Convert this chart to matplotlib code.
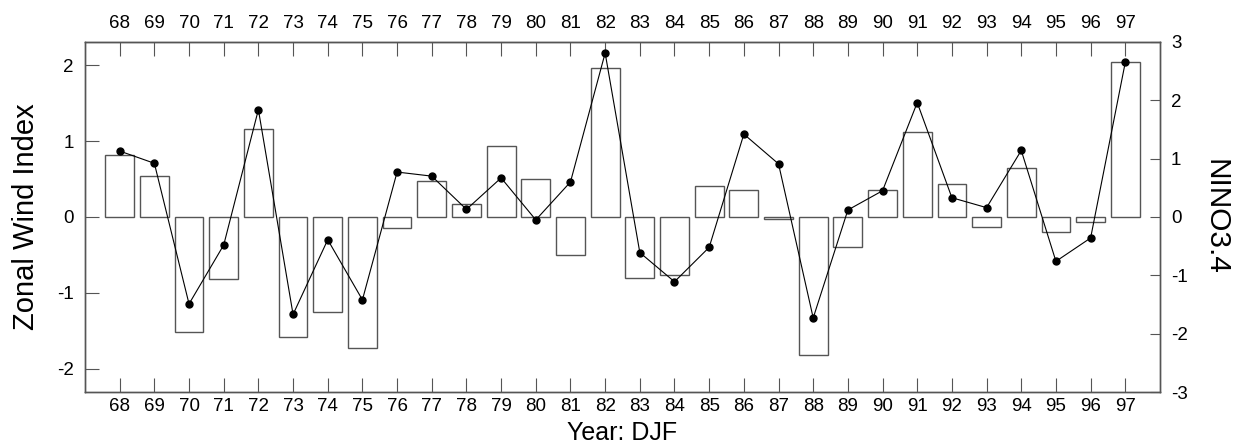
import matplotlib
matplotlib.use("Agg")
import matplotlib.pyplot as plt

years = list(range(68, 98))
year_labels = [str(y) for y in years]
zonal_wind = [0.82, 0.54, -1.52, -0.82, 1.16, -1.58, -1.26, -1.73, -0.14,
              0.47, 0.17, 0.94, 0.50, -0.50, 1.96, -0.80, -0.76, 0.41,
              0.35, -0.03, -1.82, -0.39, 0.35, 1.12, 0.44, -0.13, 0.64,
              -0.20, -0.07, 2.04]
nino34 = [1.13, 0.92, -1.49, -0.48, 1.84, -1.67, -0.39, -1.42, 0.77,
          0.70, 0.13, 0.67, -0.05, 0.60, 2.81, -0.61, -1.11, -0.52,
          1.42, 0.91, -1.73, 0.12, 0.45, 1.96, 0.33, 0.16, 1.14,
          -0.76, -0.36, 2.65]

plt.rcParams['font.family'] = ['Liberation Sans', 'DejaVu Sans']

fig = plt.figure(figsize=(12.41, 4.46), dpi=100)
ax = fig.add_axes([0.0685, 0.121, 0.8662, 0.785])

ax.bar(years, zonal_wind, width=0.83, facecolor='white', edgecolor='#555555',
       linewidth=1.0, zorder=2)
ax.set_xlim(67, 98)
ax.set_ylim(-2.31, 2.31)
ax.set_yticks([-2, -1, 0, 1, 2])
ax.set_yticklabels(['-2', '-1', '0', '1', '2'])
ax.set_xticks(years)
ax.set_xticklabels(year_labels)
ax.tick_params(axis='x', direction='in', length=10, width=0.8, color='#555555',
               bottom=True, labelbottom=True, top=False, labeltop=False,
               labelsize=13.5, pad=4)
ax.tick_params(axis='y', direction='in', length=10, width=0.8, color='#555555',
               labelsize=13.5, pad=8)
ax.set_ylabel('Zonal Wind Index', fontsize=21, labelpad=12)
fig.text(0.5 * (0.0685 + 0.9347), 1 - 440 / 446, 'Year: DJF', fontsize=18,
         ha='center', va='baseline')
for s in ax.spines.values():
    s.set_color('#555555')
    s.set_linewidth(1.0)

top = ax.secondary_xaxis('top')
top.set_xticks(years)
top.set_xticklabels(year_labels)
top.tick_params(axis='x', direction='in', length=10, width=0.8, color='#555555',
                labelsize=13.5, pad=7)
top.spines['top'].set_color('#555555')

ax2 = ax.twinx()
ax2.plot(years, nino34, color='black', linewidth=0.8, marker='o',
         markersize=5, zorder=3)
ax2.set_ylim(-3, 3)
ax2.set_yticks([-3, -2, -1, 0, 1, 2, 3])
ax2.set_yticklabels(['-3', '-2', '-1', '0', '1', '2', '3'])
ax2.tick_params(axis='y', direction='in', length=7, width=0.8, color='#555555',
                labelsize=13.5, pad=8)
ax2.set_ylabel('NINO3.4', fontsize=21.5, rotation=270, labelpad=30)
for s in ax2.spines.values():
    s.set_color('#555555')
    s.set_linewidth(1.0)

fig.savefig('out.png', dpi=100)
